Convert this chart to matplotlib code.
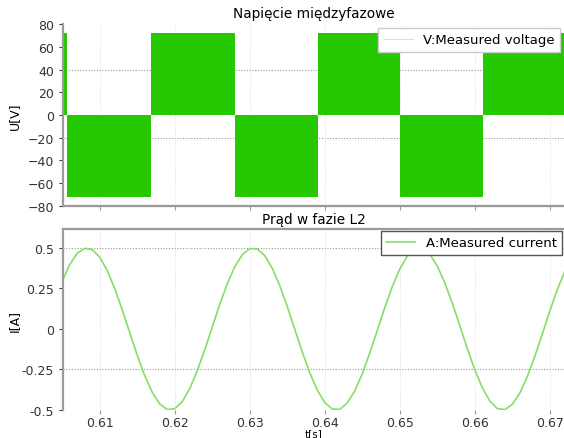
import matplotlib
matplotlib.use("Agg")
import matplotlib.pyplot as plt

# ------------------------------
# data
# ------------------------------
# voltage: PWM blocks (edges in s, level in V)
v_edges = [0.6050, 0.6057, 0.6168, 0.6281, 0.6391, 0.6500, 0.6611, 0.6720]
v_levels = [72, -72, 72, -72, 72, -72, 72]

# current samples, every 1 ms from 0.605 s
i_t = [0.605 + 0.001 * k for k in range(68)]
i_val = [0.297, 0.398, 0.467, 0.498, 0.490, 0.443, 0.361, 0.249, 0.118, -0.023,
         -0.162, -0.288, -0.391, -0.463, -0.497, -0.492, -0.448, -0.368, -0.258, -0.128,
         0.012, 0.152, 0.279, 0.384, 0.458, 0.496, 0.494, 0.453, 0.375, 0.268,
         0.139, -0.001, -0.141, -0.270, -0.377, -0.454, -0.494, -0.496, -0.457, -0.382,
         -0.277, -0.149, -0.010, 0.131, 0.261, 0.370, 0.449, 0.493, 0.497, 0.462,
         0.389, 0.286, 0.160, 0.021, -0.120, -0.251, -0.362, -0.444, -0.491, -0.498,
         -0.466, -0.396, -0.295, -0.170, -0.032, 0.110, 0.242, 0.355]

x_ticks = [0.61, 0.62, 0.63, 0.64, 0.65, 0.66, 0.67]
v_ticks = [-80, -60, -40, -20, 0, 20, 40, 60, 80]
i_ticks = [-0.5, -0.25, 0, 0.25, 0.5]
i_tick_labels = ["-0.5", "-0.25", "0", "0.25", "0.5"]

plt.rcParams["font.family"] = ["DejaVu Sans"]
plt.rcParams["font.size"] = 9

fig = plt.figure(figsize=(5.64, 4.39), dpi=100)
ax1 = fig.add_axes([0.1117, 0.5285, 0.8883, 0.4145])
ax2 = fig.add_axes([0.1117, 0.0638, 0.8883, 0.4122])

green_fill = "#26c800"
green_line = "#86de64"
spine_c = "#9a9a9a"

# ---- top: voltage ----
ax1.fill_between(v_edges, v_levels + [v_levels[-1]], 0, step="post",
                 color=green_fill, linewidth=0)
ax1.plot([], [], color="#c8f0c0", lw=0.8, label="V:Measured voltage")
ax1.set_xlim(0.6051, 0.6719)
ax1.set_ylim(-80, 80)
ax1.set_yticks(v_ticks)
ax1.set_xticks(x_ticks)
ax1.set_xticklabels([])
ax1.set_ylabel("U[V]")
ax1.yaxis.set_label_coords(-0.085, 0.5)
ax1.set_title("Napięcie międzyfazowe", fontsize=9.8, pad=5)
for y in [40, -20]:
    ax1.axhline(y, color="#999999", ls=(0, (1, 1.5)), lw=0.8, zorder=0)
leg1 = ax1.legend(loc="upper right", fancybox=False, borderaxespad=0.3,
                  handlelength=2.2, framealpha=1, fontsize=9.5)
leg1.get_frame().set_edgecolor("#cccccc")
ax1.spines["top"].set_visible(False)
ax1.spines["right"].set_visible(False)

# ---- bottom: current ----
ax2.plot(i_t, i_val, color=green_line, lw=1.2, label="A:Measured current")
ax2.set_xlim(0.6051, 0.6719)
ax2.set_ylim(-0.5, 0.617)
ax2.set_yticks(i_ticks)
ax2.set_yticklabels(i_tick_labels)
ax2.set_xticks(x_ticks)
ax2.set_xticklabels([str(x) for x in x_ticks])
ax2.set_ylabel("I[A]")
ax2.yaxis.set_label_coords(-0.085, 0.5)
ax2.set_xlabel("t[s]", fontsize=7.5, labelpad=0)
ax2.set_title("Prąd w fazie L2", fontsize=9.8, pad=4)
for y in [0.5, -0.25]:
    ax2.axhline(y, color="#999999", ls=(0, (1, 1.5)), lw=0.8, zorder=0)
leg2 = ax2.legend(loc="upper right", fancybox=False, borderaxespad=0.15,
                  handlelength=2.2, framealpha=1, fontsize=9.5)
leg2.get_frame().set_edgecolor("#555555")
ax2.spines["bottom"].set_visible(False)
ax2.spines["right"].set_visible(False)

for ax in (ax1, ax2):
    for x in x_ticks:
        ax.axvline(x, color="#d2d2d2", ls=(0, (1, 2)), lw=0.6, zorder=0)
    for s in ax.spines.values():
        s.set_color(spine_c)
        s.set_linewidth(1.6)
    ax.tick_params(colors="#333333", length=3, width=0.8)
    ax.tick_params(axis="x", color=spine_c, pad=1)

fig.savefig("out.png", dpi=100)
